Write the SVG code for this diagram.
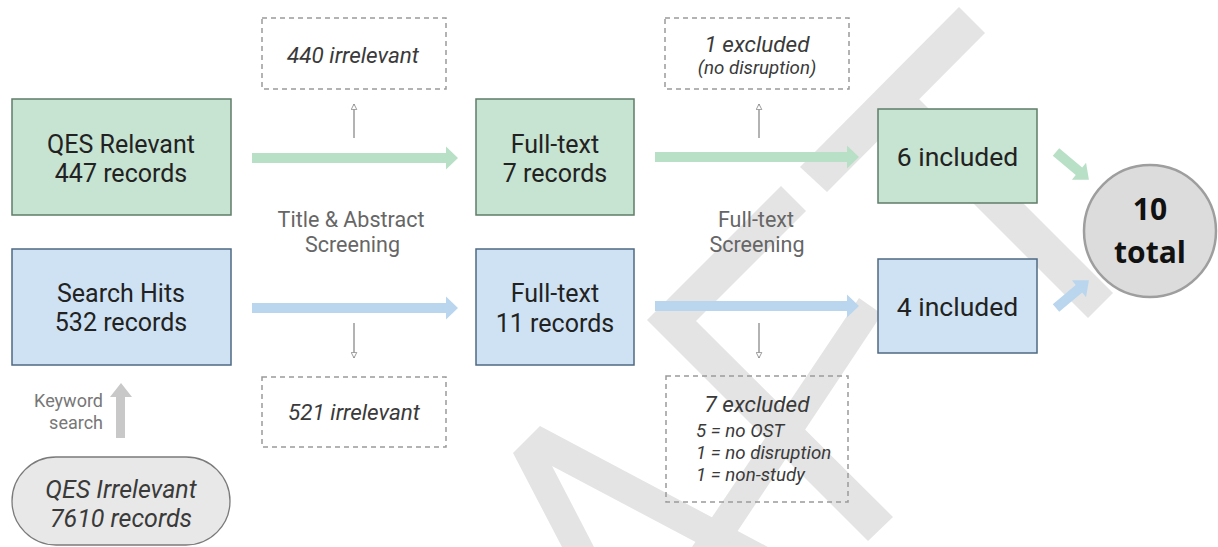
<svg xmlns="http://www.w3.org/2000/svg" width="1218" height="547" viewBox="0 0 1218 547">
<style>
.wm{fill:#e4e4e4}
.gbox{fill:#c7e3d1;stroke:#5f7d69;stroke-width:1.5}
.bbox{fill:#cfe2f3;stroke:#4f6983;stroke-width:1.5}
.dash{fill:none;stroke:#9a9a9a;stroke-width:1.5;stroke-dasharray:5 4}
.t{font-family:Roboto,"Liberation Sans",sans-serif;fill:#222;text-anchor:middle}
.main{font-size:25px}
.big{font-size:26.5px}
.it{font-style:italic;fill:#3a3a3a}
.i22{font-size:22.5px}
.i18{font-size:18.7px}
.st{text-anchor:start}
.lbl{font-family:Roboto,"Liberation Sans",sans-serif;fill:#666;font-size:21.5px;text-anchor:middle}
.ga{fill:#b8e0c6}
.ba{fill:#b9d6ee}
.thin{stroke:#8a8a8a;stroke-width:1.3;fill:none}
.tot{font-family:"Open Sans","DejaVu Sans",sans-serif;font-weight:700;font-size:30px;fill:#111;text-anchor:middle}
</style>
<defs>
<marker id="oh" viewBox="0 0 10 10" refX="9" refY="5" markerWidth="7" markerHeight="7" orient="auto" markerUnits="userSpaceOnUse">
<path d="M1,1 L9,5 L1,9 Z" fill="#fff" stroke="#8a8a8a" stroke-width="1.2"/>
</marker>
</defs>
<rect width="1218" height="547" fill="#fff"/>
<g id="watermark">
<polygon class="wm" points="959,7 985,33 827,192 800,167"/>
<polygon class="wm" points="906,86 1113,293 1088,318 881,111"/>
<polygon class="wm" points="781,186 647,320 868,541 893,517 696,321 806,211"/>
<polygon class="wm" points="540,426 513,453 562,547 594,547 552,466 705,547 768,547"/>
<polygon class="wm" points="692,547 727,547 882,314 859,298"/>
</g>
<g id="connectors">
<polygon class="ga" points="252,153 446,153 446,146.5 458,158 446,169.5 446,163 252,163"/>
<polygon class="ga" points="655,152 847,152 847,145.5 859,157 847,168.5 847,162 655,162"/>
<polygon class="ba" points="252,303 446,303 446,296.5 458,308 446,319.5 446,313 252,313"/>
<polygon class="ba" points="655,301 847,301 847,294.5 859,306 847,317.5 847,311 655,311"/>
<polygon class="ga" transform="translate(1056,152) rotate(40)" points="0,-5 30,-5 30,-11 43,0 30,11 30,5 0,5"/>
<polygon class="ba" transform="translate(1056,308) rotate(-40)" points="0,-5 30,-5 30,-11 43,0 30,11 30,5 0,5"/>
<polygon fill="#c8c8c8" points="116,438 116,397 110,397 121,383 132,397 125,397 125,438"/>
<line class="thin" x1="354" y1="138" x2="354" y2="104" marker-end="url(#oh)"/>
<line class="thin" x1="354" y1="323" x2="354" y2="358" marker-end="url(#oh)"/>
<line class="thin" x1="759" y1="138" x2="759" y2="104" marker-end="url(#oh)"/>
<line class="thin" x1="759" y1="323" x2="759" y2="358" marker-end="url(#oh)"/>
</g>
<g id="qes-relevant">
<rect class="gbox" x="12" y="99" width="219" height="116"/>
<text class="t main" x="121" y="152.5">QES Relevant</text>
<text class="t main" x="121" y="181.5">447 records</text>
</g>
<g id="search-hits">
<rect class="bbox" x="12" y="249" width="219" height="116"/>
<text class="t main" x="121" y="302">Search Hits</text>
<text class="t main" x="121" y="331">532 records</text>
</g>
<g id="qes-irrelevant">
<rect x="12" y="457" width="218" height="88" rx="44" ry="44" fill="#e8e8e8" stroke="#7a7a7a" stroke-width="1.3"/>
<text class="t main it" x="121" y="498">QES Irrelevant</text>
<text class="t main it" x="121" y="527">7610 records</text>
</g>
<g id="keyword-label">
<text font-family="Roboto,'Liberation Sans',sans-serif" font-size="18px" fill="#777" text-anchor="end" x="103" y="407">Keyword</text>
<text font-family="Roboto,'Liberation Sans',sans-serif" font-size="18px" fill="#777" text-anchor="end" x="103" y="428.5">search</text>
</g>
<g id="irrelevant-440">
<rect class="dash" x="262" y="18" width="184" height="71"/>
<text class="t it i22" x="353" y="62.5">440 irrelevant</text>
</g>
<g id="irrelevant-521">
<rect class="dash" x="262" y="377" width="184" height="70"/>
<text class="t it i22" x="354" y="420">521 irrelevant</text>
</g>
<g id="ta-screening">
<text class="lbl" x="351" y="226.5">Title &amp; Abstract</text>
<text class="lbl" x="352.5" y="251.5">Screening</text>
</g>
<g id="fulltext-green">
<rect class="gbox" x="476" y="99" width="158" height="116"/>
<text class="t main" x="555" y="152.5">Full-text</text>
<text class="t main" x="555" y="181.5">7 records</text>
</g>
<g id="fulltext-blue">
<rect class="bbox" x="476" y="249" width="158" height="116"/>
<text class="t main" x="555" y="301.5">Full-text</text>
<text class="t main" x="555" y="331.5">11 records</text>
</g>
<g id="excluded-1">
<rect class="dash" x="665" y="18" width="184" height="71"/>
<text class="t it i22" x="757" y="51.5">1 excluded</text>
<text class="t it i18" x="757" y="74">(no disruption)</text>
</g>
<g id="ft-screening">
<text class="lbl" x="756" y="226.5">Full-text</text>
<text class="lbl" x="757" y="251.5">Screening</text>
</g>
<g id="excluded-7">
<rect class="dash" x="666" y="376" width="182" height="126"/>
<text class="t it i22" x="757" y="412">7 excluded</text>
<text class="t it i18 st" x="696" y="436.5">5 = no OST</text>
<text class="t it i18 st" x="696" y="458.5">1 = no disruption</text>
<text class="t it i18 st" x="696" y="480.5">1 = non-study</text>
</g>
<g id="included-6">
<rect class="gbox" x="878" y="109" width="159" height="94"/>
<text class="t big" x="957.5" y="166">6 included</text>
</g>
<g id="included-4">
<rect class="bbox" x="878" y="259" width="159" height="94"/>
<text class="t big" x="957.5" y="316">4 included</text>
</g>
<g id="total">
<circle cx="1150" cy="231" r="66" fill="#dcdcdc" stroke="#9e9e9e" stroke-width="2.5"/>
<text class="tot" x="1150" y="220">10</text>
<text class="tot" x="1150" y="263">total</text>
</g>
</svg>
